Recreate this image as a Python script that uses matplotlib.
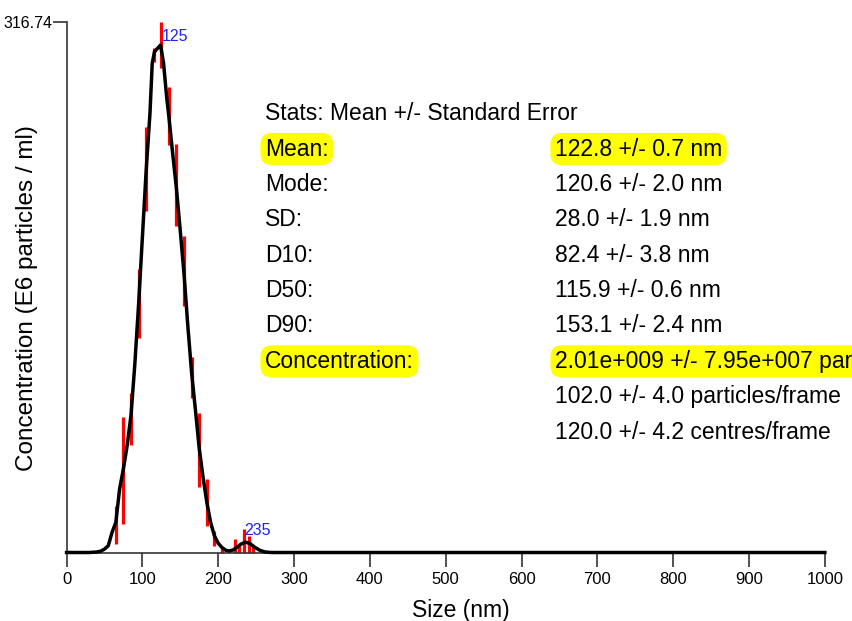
import numpy as np
import matplotlib
matplotlib.use("Agg")
import matplotlib.pyplot as plt

plt.rcParams['font.family'] = ['Liberation Sans', 'DejaVu Sans']

# =========================
# Data
# =========================
# fitted mean curve (size nm, concentration E6/ml)
curve_x = [0, 30, 40, 45, 50, 55, 60, 65, 70, 75, 80, 85, 90, 95, 100, 105, 110,
           113, 116, 120, 124, 128, 132, 135, 140, 145, 150, 155, 160, 165, 170,
           175, 180, 185, 190, 195, 200, 205, 210, 215, 220, 225, 230, 236, 242,
           248, 255, 262, 270, 1000]
curve_y = [0, 0, 0.3, 0.8, 2, 4, 12, 18, 38, 50, 64, 82, 112, 148, 188, 228, 262,
           292, 299, 301, 303, 292, 272, 260, 238, 217, 192, 166, 135, 107, 85,
           62, 45, 30, 18, 10, 5.5, 3, 1.3, 0.9, 1.6, 3.2, 5, 6.2, 5.3,
           3.2, 1.3, 0.3, 0, 0]

# standard error bars (centre nm, low, high)
err_x = [65, 75, 85, 95, 105, 115, 125, 135, 145, 155, 165, 175, 185, 195,
         205, 222, 228, 234, 241, 246]
err_lo = [5, 17, 64, 128, 204, 293, 289, 243, 195, 147, 92, 39, 16, 4,
          0, 0, 0, 0, 0, 0]
err_hi = [28, 81, 95, 169, 254, 301, 316.74, 278, 244, 189, 117, 83, 44, 13,
          3, 8, 5, 14, 10, 4]

peak_labels = [125, 235]
peak_vals = [308, 13]

y_max = 316.74

stat_names = ["Mean:", "Mode:", "SD:", "D10:", "D50:", "D90:", "Concentration:", "", ""]
stat_values = ["122.8 +/- 0.7 nm", "120.6 +/- 2.0 nm", "28.0 +/- 1.9 nm",
               "82.4 +/- 3.8 nm", "115.9 +/- 0.6 nm", "153.1 +/- 2.4 nm",
               "2.01e+009 +/- 7.95e+007 particles/ml",
               "102.0 +/- 4.0 particles/frame", "120.0 +/- 4.2 centres/frame"]
highlighted = ["Mean:", "Concentration:"]

# =========================
# Plot
# =========================
fig = plt.figure(figsize=(8.53, 6.21), dpi=100)
ax = fig.add_axes([0.078, 0.1103, 0.889, 0.8543])

ax.vlines(err_x, err_lo, err_hi, color="#ff0000", lw=2.3, clip_on=False, zorder=2)
ax.plot(curve_x, curve_y, color="black", lw=2.5, clip_on=False, zorder=3,
        solid_joinstyle="round")

for px, pv in zip(peak_labels, peak_vals):
    ax.text(px, pv, str(px), color="#2020ff", fontsize=11.5, ha="left", va="center")

ax.set_xlim(0, 1000)
ax.set_ylim(0, y_max)
ax.set_xticks(np.arange(0, 1001, 100))
ax.set_yticks([y_max])
ax.set_yticklabels(["316.74"])
ax.tick_params(axis="x", direction="out", length=10, width=1.2, labelsize=12,
               pad=4, color="#333333")
ax.tick_params(axis="y", direction="out", length=10, width=1.2, labelsize=11.5,
               pad=0, color="#333333")
for s in ["top", "right"]:
    ax.spines[s].set_visible(False)
for s in ["left", "bottom"]:
    ax.spines[s].set_linewidth(1.2)
    ax.spines[s].set_color("#333333")

ax.set_xlabel("Size (nm)", fontsize=16.5)
ax.xaxis.set_label_coords(0.52, -0.088)
ax.set_ylabel("Concentration (E6 particles / ml)", fontsize=17.5)
ax.yaxis.set_label_coords(-0.038, 0.48)

# stats block
fs = 16.5
fig.text(265 / 853, 1 - 113 / 621, "Stats: Mean +/- Standard Error",
         fontsize=fs, va="center", ha="left")
hl = dict(boxstyle="round,pad=0.2,rounding_size=0.5", fc="#ffff00", ec="none")
for i, (name, val) in enumerate(zip(stat_names, stat_values)):
    yy = 1 - (149 + i * 35.4) / 621
    box = hl if name in highlighted else None
    if name:
        fig.text(265 / 853, yy, name, fontsize=fs, va="center", ha="left", bbox=box)
    fig.text(555 / 853, yy, val, fontsize=fs, va="center", ha="left", bbox=box)

fig.savefig("out.png", dpi=100)
